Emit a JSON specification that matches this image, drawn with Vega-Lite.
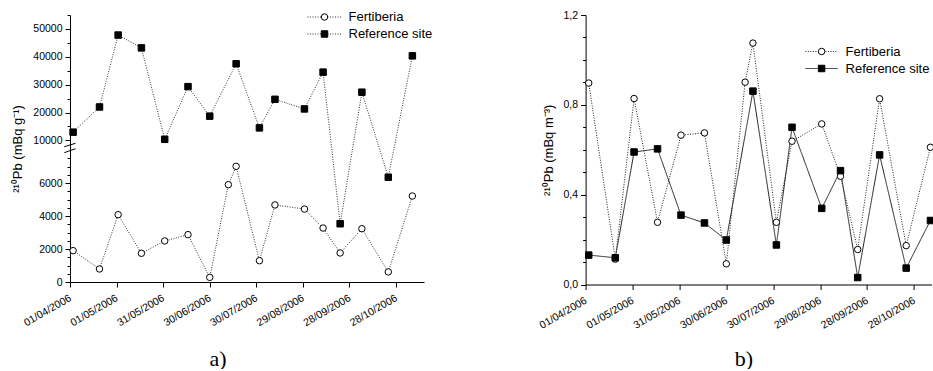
{
  "$schema": "https://vega.github.io/schema/vega-lite/v6.json",
  "padding": {"left": 11, "top": 10, "right": 0, "bottom": 0},
  "background": "white",
  "bounds": "flush",
  "spacing": 161.6,
  "resolve": {
    "scale": {"strokeDash": "independent", "shape": "independent", "fill": "independent", "stroke": "independent"},
    "legend": {"strokeDash": "independent", "shape": "independent", "fill": "independent", "stroke": "independent"}
  },
  "config": {
    "view": {"stroke": null},
    "font": "Liberation Sans",
    "axis": {"domainColor": "black", "tickColor": "black", "labelColor": "black", "titleColor": "black", "labelFont": "Liberation Sans", "labelFontSize": 10.5, "titleFont": "Liberation Sans", "titleFontSize": 13, "titleFontWeight": "normal", "grid": false, "labelOverlap": false, "labelFlush": false, "domainWidth": 1, "tickWidth": 1},
    "legend": {"labelFont": "Liberation Sans", "labelFontSize": 13, "labelColor": "black"}
  },
  "datasets": {
    "a": [
      {"date": "2006-04-03", "site": "Fertiberia", "value": 1900},
      {"date": "2006-04-20", "site": "Fertiberia", "value": 790},
      {"date": "2006-05-02", "site": "Fertiberia", "value": 4080},
      {"date": "2006-05-17", "site": "Fertiberia", "value": 1740},
      {"date": "2006-06-01", "site": "Fertiberia", "value": 2490},
      {"date": "2006-06-16", "site": "Fertiberia", "value": 2870},
      {"date": "2006-06-30", "site": "Fertiberia", "value": 280},
      {"date": "2006-07-12", "site": "Fertiberia", "value": 5900},
      {"date": "2006-07-17", "site": "Fertiberia", "value": 7010},
      {"date": "2006-08-01", "site": "Fertiberia", "value": 1290},
      {"date": "2006-08-11", "site": "Fertiberia", "value": 4670},
      {"date": "2006-08-30", "site": "Fertiberia", "value": 4420},
      {"date": "2006-09-11", "site": "Fertiberia", "value": 3270},
      {"date": "2006-09-22", "site": "Fertiberia", "value": 1760},
      {"date": "2006-10-06", "site": "Fertiberia", "value": 3230},
      {"date": "2006-10-23", "site": "Fertiberia", "value": 610},
      {"date": "2006-11-07T12:00:00Z", "site": "Fertiberia", "value": 5210},
      {"date": "2006-04-03", "site": "Reference site", "value": 12960},
      {"date": "2006-04-20", "site": "Reference site", "value": 22000},
      {"date": "2006-05-02", "site": "Reference site", "value": 47800},
      {"date": "2006-05-17", "site": "Reference site", "value": 43200},
      {"date": "2006-06-01", "site": "Reference site", "value": 10400},
      {"date": "2006-06-16", "site": "Reference site", "value": 29300},
      {"date": "2006-06-30", "site": "Reference site", "value": 18700},
      {"date": "2006-07-17", "site": "Reference site", "value": 37500},
      {"date": "2006-08-01", "site": "Reference site", "value": 14500},
      {"date": "2006-08-11", "site": "Reference site", "value": 24750},
      {"date": "2006-08-30", "site": "Reference site", "value": 21300},
      {"date": "2006-09-11", "site": "Reference site", "value": 34500},
      {"date": "2006-09-22", "site": "Reference site", "value": 3530},
      {"date": "2006-10-06", "site": "Reference site", "value": 27300},
      {"date": "2006-10-23", "site": "Reference site", "value": 6350},
      {"date": "2006-11-07T12:00:00Z", "site": "Reference site", "value": 40350}
    ],
    "b": [
      {"date": "2006-04-03", "site": "Fertiberia", "value": 0.897},
      {"date": "2006-04-20", "site": "Fertiberia", "value": 0.113},
      {"date": "2006-05-02", "site": "Fertiberia", "value": 0.828},
      {"date": "2006-05-17", "site": "Fertiberia", "value": 0.277},
      {"date": "2006-06-01", "site": "Fertiberia", "value": 0.665},
      {"date": "2006-06-16", "site": "Fertiberia", "value": 0.675},
      {"date": "2006-06-30", "site": "Fertiberia", "value": 0.092},
      {"date": "2006-07-12", "site": "Fertiberia", "value": 0.901},
      {"date": "2006-07-17", "site": "Fertiberia", "value": 1.075},
      {"date": "2006-08-01", "site": "Fertiberia", "value": 0.277},
      {"date": "2006-08-11", "site": "Fertiberia", "value": 0.638},
      {"date": "2006-08-30", "site": "Fertiberia", "value": 0.715},
      {"date": "2006-09-11", "site": "Fertiberia", "value": 0.482},
      {"date": "2006-09-22", "site": "Fertiberia", "value": 0.156},
      {"date": "2006-10-06", "site": "Fertiberia", "value": 0.827},
      {"date": "2006-10-23", "site": "Fertiberia", "value": 0.173},
      {"date": "2006-11-07T12:00:00Z", "site": "Fertiberia", "value": 0.611},
      {"date": "2006-04-03", "site": "Reference site", "value": 0.131},
      {"date": "2006-04-20", "site": "Reference site", "value": 0.119},
      {"date": "2006-05-02", "site": "Reference site", "value": 0.590},
      {"date": "2006-05-17", "site": "Reference site", "value": 0.604},
      {"date": "2006-06-01", "site": "Reference site", "value": 0.309},
      {"date": "2006-06-16", "site": "Reference site", "value": 0.274},
      {"date": "2006-06-30", "site": "Reference site", "value": 0.198},
      {"date": "2006-07-17", "site": "Reference site", "value": 0.861},
      {"date": "2006-08-01", "site": "Reference site", "value": 0.176},
      {"date": "2006-08-11", "site": "Reference site", "value": 0.700},
      {"date": "2006-08-30", "site": "Reference site", "value": 0.339},
      {"date": "2006-09-11", "site": "Reference site", "value": 0.507},
      {"date": "2006-09-22", "site": "Reference site", "value": 0.031},
      {"date": "2006-10-06", "site": "Reference site", "value": 0.577},
      {"date": "2006-10-23", "site": "Reference site", "value": 0.073},
      {"date": "2006-11-07T12:00:00Z", "site": "Reference site", "value": 0.285}
    ],
    "breaks": [
      {"x1": "2006-03-28T08:00:00Z", "x2": "2006-04-04T14:00:00Z", "y1": 7980, "y2": 8970},
      {"x1": "2006-03-28T08:00:00Z", "x2": "2006-04-04T14:00:00Z", "y1": 7816, "y2": 7926}
    ]
  },
  "hconcat": [
    {
      "width": 354,
      "height": 267,
      "resolve": {"axis": {"y": "independent"}},
      "layer": [
        {
          "data": {"name": "a"},
          "mark": {"type": "line", "stroke": "#333", "strokeWidth": 1},
          "encoding": {
            "x": {
              "field": "date", "type": "temporal",
              "scale": {"type": "utc", "domain": [{"year": 2006, "month": 4, "date": 1, "utc": true}, {"year": 2006, "month": 11, "date": 15, "utc": true}], "nice": false},
              "axis": {
                "title": "a)", "titleFont": "Liberation Serif", "titleFontSize": 22, "titleX": 147.6, "titleY": 83, "titleBaseline": "alphabetic", "titleAlign": "center",
                "values": [
                  {"year": 2006, "month": 4, "date": 1, "utc": true}, {"year": 2006, "month": 4, "date": 16, "utc": true},
                  {"year": 2006, "month": 5, "date": 1, "utc": true}, {"year": 2006, "month": 5, "date": 16, "utc": true},
                  {"year": 2006, "month": 5, "date": 31, "utc": true}, {"year": 2006, "month": 6, "date": 15, "utc": true},
                  {"year": 2006, "month": 6, "date": 30, "utc": true}, {"year": 2006, "month": 7, "date": 15, "utc": true},
                  {"year": 2006, "month": 7, "date": 30, "utc": true}, {"year": 2006, "month": 8, "date": 14, "utc": true},
                  {"year": 2006, "month": 8, "date": 29, "utc": true}, {"year": 2006, "month": 9, "date": 13, "utc": true},
                  {"year": 2006, "month": 9, "date": 28, "utc": true}, {"year": 2006, "month": 10, "date": 13, "utc": true},
                  {"year": 2006, "month": 10, "date": 28, "utc": true}, {"year": 2006, "month": 11, "date": 12, "utc": true}
                ],
                "labelExpr": "round((datum.value - utc(2006,3,1))/864e5) % 30 == 0 ? utcFormat(datum.value, '%d/%m/%Y') : ''",
                "tickSize": {"condition": {"test": "round((datum.value - utc(2006,3,1))/864e5) % 30 == 0", "value": 5}, "value": 3},
                "labelAngle": -30, "labelAlign": "right", "labelBaseline": "middle", "labelPadding": 10, "labelOverlap": false
              }
            },
            "y": {
              "field": "value", "type": "quantitative",
              "scale": {"domain": [0, 7800, 8000, 55000], "range": [267, 138.3, 131, 0], "nice": false, "zero": false},
              "axis": {
                "orient": "left",
                "title": "²¹⁰Pb (mBq g⁻¹)", "titlePadding": 8,
                "values": [0, 2000, 4000, 6000, 10000, 20000, 30000, 40000, 50000],
                "format": "d",
                "tickSize": 5, "labelPadding": 3, "labelOverlap": false
              }
            },
            "strokeDash": {
              "field": "site", "type": "nominal",
              "scale": {"domain": ["Fertiberia", "Reference site"], "range": [[1, 1.5], [1, 1.5]]},
              "legend": {"orient": "none", "legendX": 248, "legendY": -4.5, "title": null, "padding": 0, "symbolType": "M-5.25,0H5.25", "symbolSize": 42, "symbolStrokeColor": "#333", "symbolStrokeWidth": 1, "labelOffset": 17.5, "labelExpr": "''", "rowPadding": 3, "zindex": 0}
            }
          }
        },
        {
          "data": {"name": "a"},
          "mark": {"type": "point", "strokeWidth": 1, "size": 42, "opacity": 1},
          "encoding": {
            "x": {"field": "date", "type": "temporal"},
            "y": {
              "field": "value", "type": "quantitative",
              "axis": {
                "orient": "left", "title": null, "labels": false, "domain": false, "tickSize": 3,
                "values": [500, 1000, 1500, 2500, 3000, 3500, 4500, 5000, 5500, 6500, 7000, 7500, 15000, 25000, 35000, 45000, 55000]
              }
            },
            "shape": {"field": "site", "type": "nominal", "scale": {"domain": ["Reference site", "Fertiberia"], "range": ["square", "circle"]},
              "legend": {"orient": "none", "legendX": 248, "legendY": -4.5, "title": null, "padding": 0, "symbolSize": 42, "symbolStrokeWidth": 1, "labelOffset": 17.5, "rowPadding": 3, "zindex": 1, "values": ["Fertiberia", "Reference site"]}},
            "fill": {"field": "site", "type": "nominal", "scale": {"domain": ["Reference site", "Fertiberia"], "range": ["black", "white"]},
              "legend": {"orient": "none", "legendX": 248, "legendY": -4.5, "title": null, "padding": 0, "symbolSize": 42, "symbolStrokeWidth": 1, "labelOffset": 17.5, "rowPadding": 3, "zindex": 1, "values": ["Fertiberia", "Reference site"]}},
            "stroke": {"field": "site", "type": "nominal", "scale": {"domain": ["Reference site", "Fertiberia"], "range": ["black", "black"]},
              "legend": {"orient": "none", "legendX": 248, "legendY": -4.5, "title": null, "padding": 0, "symbolSize": 42, "symbolStrokeWidth": 1, "labelOffset": 17.5, "rowPadding": 3, "zindex": 1, "values": ["Fertiberia", "Reference site"]}}
          }
        },
        {
          "data": {"name": "breaks"},
          "mark": {"type": "rule", "stroke": "black", "strokeWidth": 1},
          "encoding": {
            "x": {"field": "x1", "type": "temporal"},
            "x2": {"field": "x2"},
            "y": {"field": "y1", "type": "quantitative", "axis": null},
            "y2": {"field": "y2"}
          }
        }
      ]
    },
    {
      "width": 346,
      "height": 269.5,
      "resolve": {"axis": {"y": "independent"}},
      "layer": [
        {
          "data": {"name": "b"},
          "mark": {"type": "line", "stroke": "#222", "strokeWidth": 1},
          "encoding": {
            "x": {
              "field": "date", "type": "temporal",
              "scale": {"type": "utc", "domain": [{"year": 2006, "month": 4, "date": 1, "utc": true}, {"year": 2006, "month": 11, "date": 8, "hours": 6, "utc": true}], "nice": false},
              "axis": {
                "title": "b)", "titleFont": "Liberation Serif", "titleFontSize": 22, "titleX": 157.7, "titleY": 80.5, "titleBaseline": "alphabetic", "titleAlign": "center",
                "values": [
                  {"year": 2006, "month": 4, "date": 1, "utc": true}, {"year": 2006, "month": 4, "date": 16, "utc": true},
                  {"year": 2006, "month": 5, "date": 1, "utc": true}, {"year": 2006, "month": 5, "date": 16, "utc": true},
                  {"year": 2006, "month": 5, "date": 31, "utc": true}, {"year": 2006, "month": 6, "date": 15, "utc": true},
                  {"year": 2006, "month": 6, "date": 30, "utc": true}, {"year": 2006, "month": 7, "date": 15, "utc": true},
                  {"year": 2006, "month": 7, "date": 30, "utc": true}, {"year": 2006, "month": 8, "date": 14, "utc": true},
                  {"year": 2006, "month": 8, "date": 29, "utc": true}, {"year": 2006, "month": 9, "date": 13, "utc": true},
                  {"year": 2006, "month": 9, "date": 28, "utc": true}, {"year": 2006, "month": 10, "date": 13, "utc": true},
                  {"year": 2006, "month": 10, "date": 28, "utc": true}
                ],
                "labelExpr": "round((datum.value - utc(2006,3,1))/864e5) % 30 == 0 ? utcFormat(datum.value, '%d/%m/%Y') : ''",
                "tickSize": {"condition": {"test": "round((datum.value - utc(2006,3,1))/864e5) % 30 == 0", "value": 5}, "value": 3},
                "labelAngle": -30, "labelAlign": "right", "labelBaseline": "middle", "labelPadding": 10, "labelOverlap": false
              }
            },
            "y": {
              "field": "value", "type": "quantitative",
              "scale": {"domain": [0, 1.2], "nice": false, "zero": false},
              "axis": {
                "orient": "left",
                "title": "²¹⁰Pb (mBq m⁻³)", "titlePadding": 8,
                "values": [0, 0.4, 0.8, 1.2],
                "labelExpr": "replace(format(datum.value, '.1f'), '.', ',')",
                "tickSize": 5, "labelPadding": 3, "labelOverlap": false
              }
            },
            "strokeDash": {
              "field": "site", "type": "nominal",
              "scale": {"domain": ["Fertiberia", "Reference site"], "range": [[1, 1.5], [1, 0]]},
              "legend": {"orient": "none", "legendX": 229.5, "legendY": 30, "title": null, "padding": 0, "symbolType": "M-5,0H5", "symbolSize": 42, "symbolStrokeColor": "#222", "symbolStrokeWidth": 1, "labelOffset": 17.5, "labelExpr": "''", "rowPadding": 3, "zindex": 0}
            }
          }
        },
        {
          "data": {"name": "b"},
          "mark": {"type": "point", "strokeWidth": 1, "size": 42, "opacity": 1},
          "encoding": {
            "x": {"field": "date", "type": "temporal"},
            "y": {
              "field": "value", "type": "quantitative",
              "axis": {
                "orient": "left", "title": null, "labels": false, "domain": false, "tickSize": 3,
                "values": [0.1, 0.2, 0.3, 0.5, 0.6, 0.7, 0.9, 1.0, 1.1]
              }
            },
            "shape": {"field": "site", "type": "nominal", "scale": {"domain": ["Reference site", "Fertiberia"], "range": ["square", "circle"]},
              "legend": {"orient": "none", "legendX": 229.5, "legendY": 30, "title": null, "padding": 0, "symbolSize": 42, "symbolStrokeWidth": 1, "labelOffset": 17.5, "rowPadding": 3, "zindex": 1, "values": ["Fertiberia", "Reference site"]}},
            "fill": {"field": "site", "type": "nominal", "scale": {"domain": ["Reference site", "Fertiberia"], "range": ["black", "white"]},
              "legend": {"orient": "none", "legendX": 229.5, "legendY": 30, "title": null, "padding": 0, "symbolSize": 42, "symbolStrokeWidth": 1, "labelOffset": 17.5, "rowPadding": 3, "zindex": 1, "values": ["Fertiberia", "Reference site"]}},
            "stroke": {"field": "site", "type": "nominal", "scale": {"domain": ["Reference site", "Fertiberia"], "range": ["black", "black"]},
              "legend": {"orient": "none", "legendX": 229.5, "legendY": 30, "title": null, "padding": 0, "symbolSize": 42, "symbolStrokeWidth": 1, "labelOffset": 17.5, "rowPadding": 3, "zindex": 1, "values": ["Fertiberia", "Reference site"]}}
          }
        }
      ]
    }
  ]
}
